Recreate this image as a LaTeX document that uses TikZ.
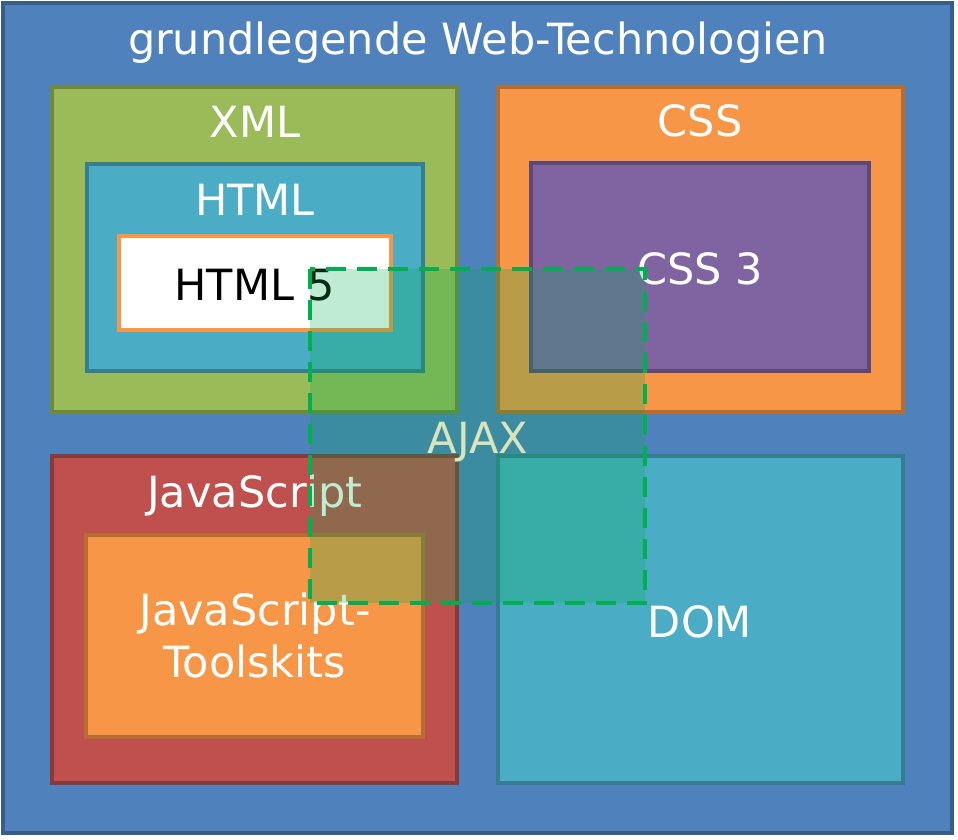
\documentclass[tikz,border=0pt]{standalone}
\usepackage{fontspec}
\setmainfont{DejaVu Sans}
\usetikzlibrary{positioning}
\definecolor{outerblue}{HTML}{4F81BD}
\definecolor{outerline}{HTML}{385D8A}
\definecolor{xmlgreen}{HTML}{9BBB59}
\definecolor{xmlline}{HTML}{71893F}
\definecolor{aqua}{HTML}{4BACC6}
\definecolor{aqualine}{HTML}{357D91}
\definecolor{orangefill}{HTML}{F79646}
\definecolor{orangeline}{HTML}{B66D31}
\definecolor{purplefill}{HTML}{8064A2}
\definecolor{purpleline}{HTML}{5C4776}
\definecolor{redfill}{HTML}{C0504D}
\definecolor{redline}{HTML}{8C3836}
\definecolor{ajaxgreen}{HTML}{00B050}
\definecolor{ajaxtext}{HTML}{D7E4BD}
\newcommand{\labelsize}{\fontsize{43}{52}\selectfont}

\begin{document}
\begin{tikzpicture}[x=1pt, y=-1pt,
    box/.style={line width=4.5pt},
    lbl/.style={anchor=base, text=white, font=\labelsize, inner sep=0pt}]
    \useasboundingbox (0,0) rectangle (958,840);
    % Outer frame
    \draw[box, fill=outerblue, draw=outerline] (3,3) rectangle (952,833);
    \node[lbl, font=\fontsize{43}{52}\selectfont] (title) at (478,55) {grundlegende Web-Technologien};
    % XML and HTML
    \draw[box, fill=xmlgreen, draw=xmlline] (52,87) rectangle (457,412);
    \node[lbl] (xml) at (255,138) {XML};
    \draw[box, fill=aqua, draw=aqualine] (87,164) rectangle (423,371);
    \node[lbl] (html) at (255,215) {HTML};
    \draw[box, fill=white, draw=orangefill] (119,236) rectangle (391,330);
    \node[lbl, text=black] (html5) at (255,300) {HTML 5};
    % CSS
    \draw[box, fill=orangefill, draw=orangeline] (498,87) rectangle (903,412);
    \node[lbl] (css) at (700,136) {CSS};
    \draw[box, fill=purplefill, draw=purpleline] (531,163) rectangle (869,371);
    \node[lbl] (css3) at (700,284) {CSS 3};
    % JavaScript
    \draw[box, fill=redfill, draw=redline] (52,456) rectangle (457,783);
    \node[lbl] (js) at (255,507) {JavaScript};
    \draw[box, fill=orangefill, draw=orangeline] (86,535) rectangle (423,737);
    \node[lbl] (jstools1) at (255,625) {JavaScript-};
    \node[lbl] (jstools2) at (255,677) {Toolskits};
    % DOM
    \draw[box, fill=aqua, draw=aqualine] (498,456) rectangle (903,783);
    \node[lbl] (dom) at (700,637) {DOM};
    % AJAX overlay
    \draw[line width=4.5pt, draw=ajaxgreen, fill=ajaxgreen, fill opacity=0.25,
        dash pattern=on 20pt off 11pt] (310,269) rectangle (645,603);
    \node[lbl, text=ajaxtext] (ajax) at (478,453) {AJAX};
\end{tikzpicture}
\end{document}
